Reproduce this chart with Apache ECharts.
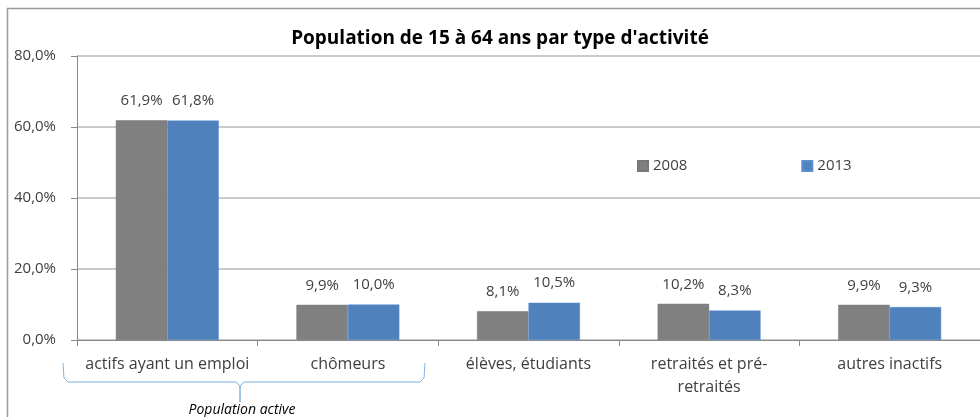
<!DOCTYPE html>
<html>
<head>
<meta charset="utf-8">
<script src="https://cdn.jsdelivr.net/npm/echarts@6/dist/echarts.min.js"></script>
<style>
  html,body{margin:0;padding:0;background:#fff;}
  #activite{width:980px;height:417px;}
</style>
</head>
<body>
<div id="activite"></div>
<script>
// categories et valeurs (en %)
var categories = ['actifs ayant un emploi', 'chômeurs', 'élèves, étudiants', 'retraités et pré-\nretraités', 'autres inactifs']
var serie2008 = [61.9, 9.9, 8.1, 10.2, 9.9]
var serie2013 = [61.8, 10.0, 10.5, 8.3, 9.3]
var annees = ['2008', '2013']
var yTicks = [0, 20, 40, 60, 80]

var chart = echarts.init(document.getElementById('activite'))

function pct(v){
  return v.toFixed(1).replace('.', ',') + '%'
}

var labelStyle = {
  show: true,
  position: 'top',
  distance: 12,
  color: '#404040',
  fontSize: 15,
  fontFamily: 'Open Sans',
  formatter: function(p){ return pct(p.value) }
}

var option = {
  animation: false,
  color: ['#808080', '#4f81bd'],
  title: {
    text: "Population de 15 à 64 ans par type d'activité",
    left: 500,
    textAlign: 'center',
    top: 27,
    padding: 0,
    textStyle: {fontFamily: 'Open Sans', fontSize: 19, fontWeight: 'bold', color: '#000', lineHeight: 24}
  },
  legend: {
    data: annees,
    left: 637,
    top: 158,
    padding: 0,
    itemWidth: 10,
    itemHeight: 10,
    itemGap: 114,
    icon: 'rect',
    textStyle: {fontFamily: 'Open Sans', fontSize: 15, color: '#404040', lineHeight: 16}
  },
  grid: {left: 77, top: 56, width: 908, height: 284, containLabel: false},
  xAxis: {
    type: 'category',
    data: categories,
    axisLine: {lineStyle: {color: '#888'}},
    axisTick: {show: true, length: 6, lineStyle: {color: '#888'}},
    axisLabel: {color: '#404040', fontSize: 16, fontFamily: 'Open Sans', margin: 13, lineHeight: 23, interval: 0}
  },
  yAxis: {
    type: 'value',
    min: 0,
    max: 80,
    interval: 20,
    axisLine: {show: true, lineStyle: {color: '#888'}},
    axisTick: {show: true, length: 6, lineStyle: {color: '#888'}},
    splitLine: {lineStyle: {color: '#b8b8b8', width: 1.5}},
    axisLabel: {
      color: '#404040', fontSize: 15, fontFamily: 'Open Sans', margin: 21,
      formatter: function(v){ return yTicks.indexOf(v) >= 0 ? pct(v) : '' }
    }
  },
  series: [{
    name: annees[0],
    type: 'bar',
    data: serie2008,
    barGap: '0%',
    barCategoryGap: '43%',
    itemStyle: {borderColor: '#777', borderWidth: 0.5},
    label: labelStyle
  }, {
    name: annees[1],
    type: 'bar',
    data: serie2013,
    itemStyle: {borderColor: '#5b8fd0', borderWidth: 0.5},
    label: labelStyle
  }],
  graphic: [{
    type: 'rect',
    shape: {x: 7.5, y: 8.5, width: 1000, height: 500},
    style: {fill: 'none', stroke: '#999', lineWidth: 1.5},
    silent: true
  }, {
    // accolade "Population active"
    type: 'polyline',
    shape: {points: [[63, 363], [64, 378], [68, 382], [236, 382], [240, 386], [240, 402], [240, 386], [244, 382], [420, 382], [424, 378], [425, 363]]},
    style: {fill: 'none', stroke: '#7fb0e0', lineWidth: 1},
    silent: true
  }, {
    type: 'text',
    x: 242,
    y: 410,
    style: {text: 'Population active', fontFamily: 'Open Sans', fontSize: 14, fontStyle: 'italic', fill: '#000', align: 'center', verticalAlign: 'middle'},
    silent: true
  }]
}
chart.setOption(option)
</script>
</body>
</html>
